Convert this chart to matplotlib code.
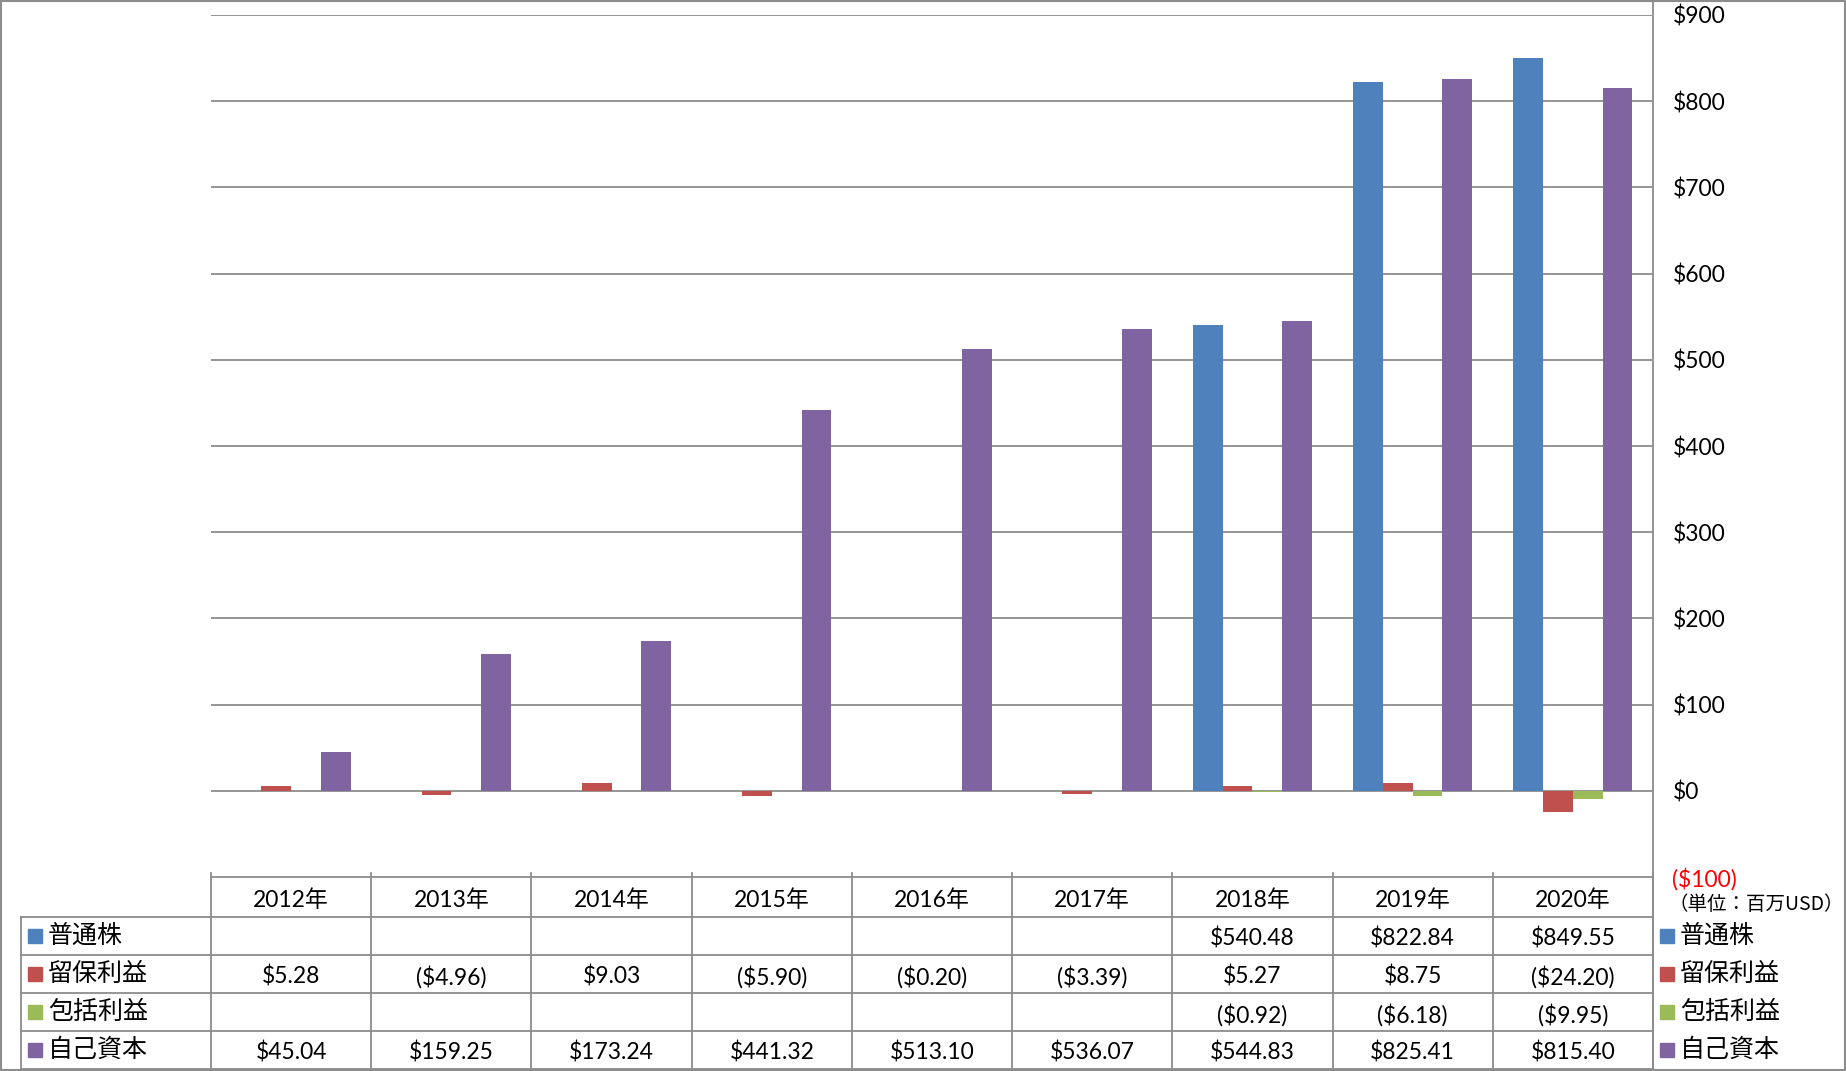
import matplotlib
matplotlib.use("Agg")
import matplotlib.pyplot as plt
import numpy as np

plt.rcParams['font.family'] = ['Lato', 'Noto Sans CJK JP', 'DejaVu Sans']

years = ["2012年", "2013年", "2014年", "2015年", "2016年", "2017年", "2018年", "2019年", "2020年"]
series = ["普通株", "留保利益", "包括利益", "自己資本"]
colors = ["#4F81BD", "#C0504D", "#9BBB59", "#8064A2"]
common = [None, None, None, None, None, None, 540.48, 822.84, 849.55]
retained = [5.28, -4.96, 9.03, -5.90, -0.20, -3.39, 5.27, 8.75, -24.20]
comprehensive = [None, None, None, None, None, None, -0.92, -6.18, -9.95]
equity = [45.04, 159.25, 173.24, 441.32, 513.10, 536.07, 544.83, 825.41, 815.40]
yticks = [-100, 0, 100, 200, 300, 400, 500, 600, 700, 800, 900]
data = [common, retained, comprehensive, equity]

W, H = 1846, 1071
fig = plt.figure(figsize=(W / 100, H / 100), dpi=100)
grid_c = "#8c8c8c"

# main axes in pixel layout
x0, x1 = 211, 1653
ytop, ybot = 15, 877
ax = fig.add_axes([x0 / W, 1 - ybot / H, (x1 - x0) / W, (ybot - ytop) / H])
n = len(years)
bw = 0.186
x = np.arange(n)
for i, (vals, c) in enumerate(zip(data, colors)):
    xs = [xi + (i - 1.5) * bw for xi, v in zip(x, vals) if v is not None]
    vs = [v for v in vals if v is not None]
    ax.bar(xs, vs, width=bw, color=c, zorder=3)
ax.set_xlim(-0.5, n - 0.5)
ax.set_ylim(-100, 900)
for t in yticks:
    if t > -100:
        ax.axhline(t, color=grid_c, lw=1.3, zorder=1)
for s in ["left", "top", "bottom", "right"]:
    ax.spines[s].set_visible(False)
ax.set_xticks([])
ax.yaxis.tick_right()
ax.set_yticks(yticks)
ax.set_yticklabels([("(${})".format(-t) if t < 0 else "${}".format(t)) for t in yticks], fontsize=16.5)
ax.tick_params(axis="y", length=0, pad=14)
for lab, t in zip(ax.get_yticklabels(), yticks):
    if t < 0:
        lab.set_color("red")

# overlay in pixel coords for table and legends
ov = fig.add_axes([0, 0, 1, 1])
ov.set_xlim(0, W)
ov.set_ylim(H, 0)
ov.axis("off")

rows = [877, 917, 955, 993, 1031, 1069]
cw = (x1 - x0) / n
lw = 1.3
# frame of figure
ov.plot([1, 1, W - 1, W - 1, 1], [1, H - 1, H - 1, 1, 1], color=grid_c, lw=1.5, clip_on=False)
# horizontal lines
ov.plot([x0, x1], [rows[0], rows[0]], color=grid_c, lw=lw)
for r in rows[1:]:
    ov.plot([21, x1], [r, r], color=grid_c, lw=lw)
# vertical lines
for j in range(n + 1):
    xx = x0 + j * cw
    ov.plot([xx, xx], [rows[0] - 4, rows[-1]], color=grid_c, lw=lw)
ov.plot([x1, x1], [0, rows[-1]], color=grid_c, lw=lw)
ov.plot([21, 21], [rows[1], rows[-1]], color=grid_c, lw=lw)

# header
for j, yname in enumerate(years):
    ov.text(x0 + (j + 0.5) * cw, (rows[0] + rows[1]) / 2 + 1, yname, ha="center",
            va="center_baseline", fontsize=16.5)


def fmt(v):
    if v is None:
        return ""
    if v < 0:
        return "(${:.2f})".format(-v)
    return "${:.2f}".format(v)


for i, (name, vals, c) in enumerate(zip(series, data, colors)):
    yc = (rows[i + 1] + rows[i + 2]) / 2
    for j, v in enumerate(vals):
        ov.text(x0 + (j + 0.5) * cw, yc + 1, fmt(v), ha="center", va="center_baseline", fontsize=16.5)
    # left legend
    ov.add_patch(plt.Rectangle((28, yc - 7), 14, 14, color=c))
    ov.text(48, yc, name, ha="left", va="center", fontsize=18, family="Noto Sans CJK JP")
    # right legend
    ov.add_patch(plt.Rectangle((1660, yc - 7), 14, 14, color=c))
    ov.text(1680, yc, name, ha="left", va="center", fontsize=18, family="Noto Sans CJK JP")

ov.text(1668, 905, "（単位：百万USD）", ha="left", va="center", fontsize=14, family="Noto Sans CJK JP")

fig.savefig("out.png", dpi=100)
